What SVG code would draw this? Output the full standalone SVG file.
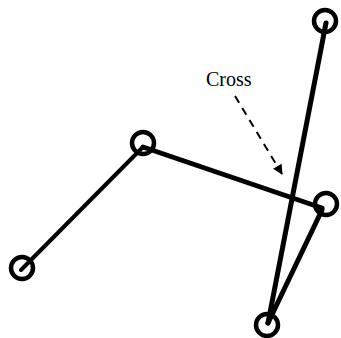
<svg xmlns="http://www.w3.org/2000/svg" width="341" height="338" viewBox="0 0 341 338">
<style>
.node{fill:none;stroke:#000;stroke-width:4.5}
.edge{stroke:#000;stroke-width:5;stroke-linecap:round;fill:none}
.thin{stroke-width:4}
.dash{stroke:#000;stroke-width:2;stroke-dasharray:8,6;fill:none}
text{font-family:"Liberation Serif","Times New Roman",serif;font-size:20px;fill:#000}
</style>
<defs>
<marker id="ah" viewBox="0 0 10 10" refX="9" refY="5" markerWidth="6" markerHeight="5" orient="auto" markerUnits="strokeWidth">
<path d="M0,0 L10,5 L0,10 z" fill="#000"/>
</marker>
</defs>
<rect width="341" height="338" fill="#fff"/>
<g id="connectors">
<line class="edge thin" x1="21" y1="270" x2="143" y2="147"/>
<line class="edge" x1="143" y1="147" x2="322" y2="208"/>
<line class="edge" x1="326" y1="23" x2="268" y2="323"/>
<line class="edge" x1="268" y1="323" x2="322" y2="210"/>
<line class="dash" x1="235" y1="96" x2="282" y2="174" marker-end="url(#ah)"/>
</g>
<g id="n1"><circle class="node" cx="325" cy="21" r="11"/></g>
<g id="n2"><circle class="node" cx="143" cy="143" r="11"/></g>
<g id="n3"><circle class="node" cx="22" cy="268" r="11"/></g>
<g id="n4"><circle class="node" cx="326" cy="204" r="11"/></g>
<g id="n5"><circle class="node" cx="267" cy="325" r="11"/></g>
<g id="label"><text x="206" y="86">Cross</text></g>
</svg>
